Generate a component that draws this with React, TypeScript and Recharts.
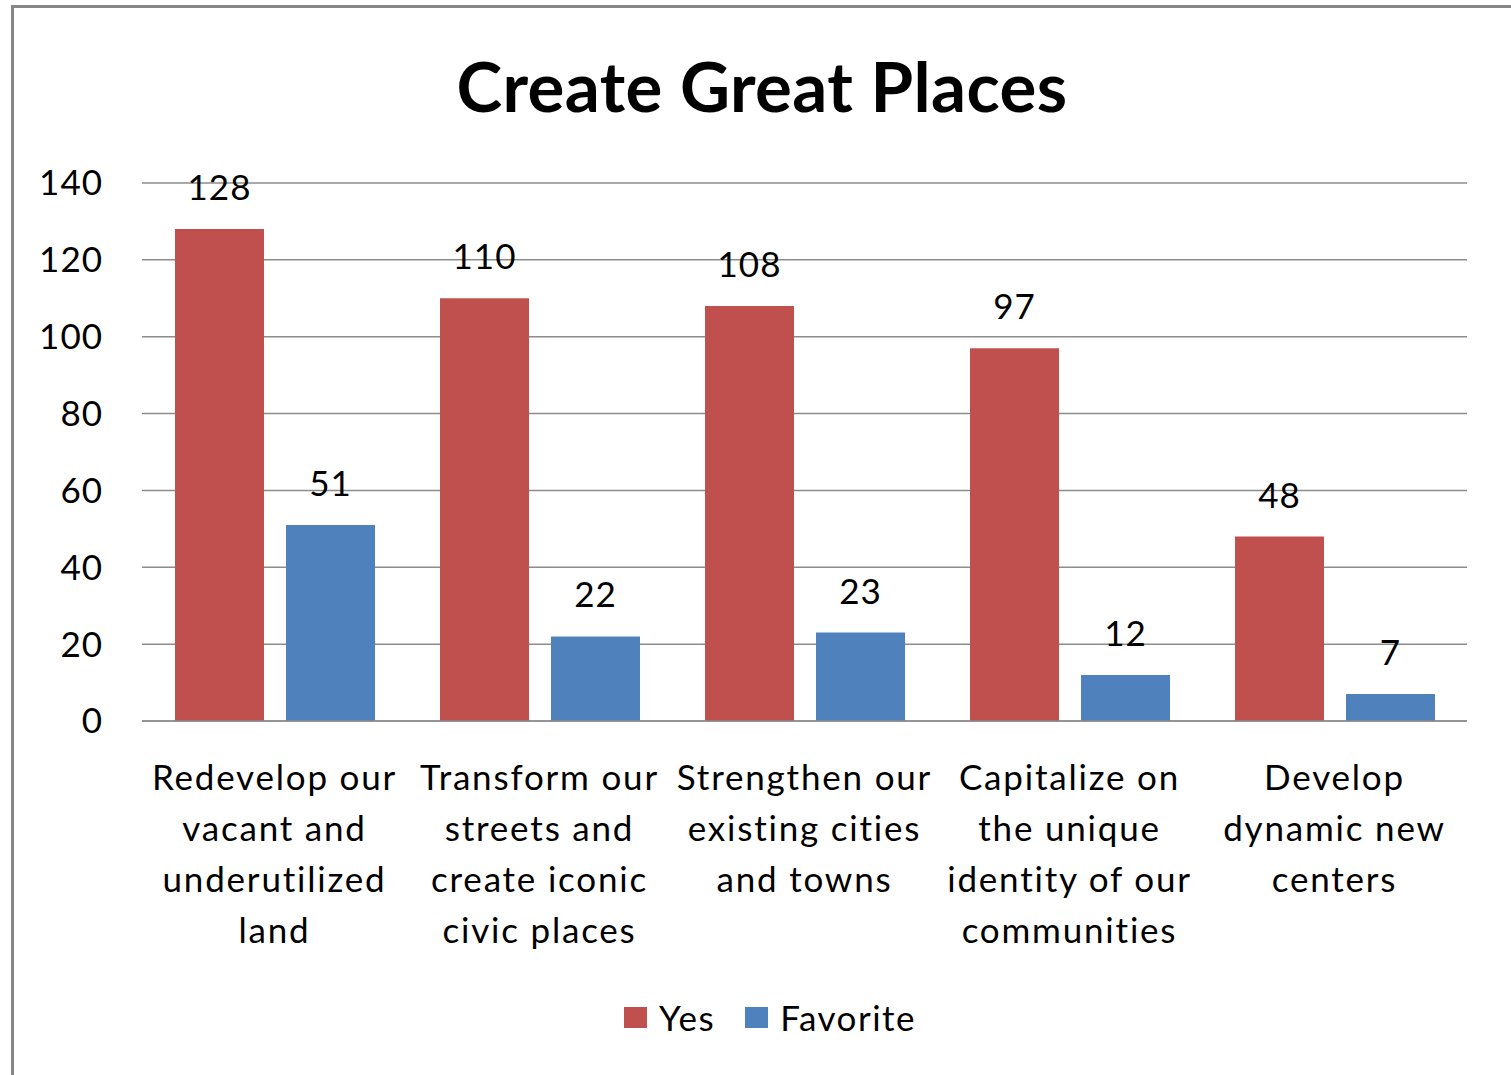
import React from "react";
import { BarChart, Bar, XAxis, YAxis, CartesianGrid, Legend, LabelList } from "recharts";

const categories: string[][] = [
  ["Redevelop our", "vacant and", "underutilized", "land"],
  ["Transform our", "streets and", "create iconic", "civic places"],
  ["Strengthen our", "existing cities", "and towns"],
  ["Capitalize on", "the unique", "identity of our", "communities"],
  ["Develop", "dynamic new", "centers"],
];
const yesValues = [128, 110, 108, 97, 48];
const favoriteValues = [51, 22, 23, 12, 7];
const yTicks = [0, 20, 40, 60, 80, 100, 120, 140];
const seriesKeys = ["yes", "favorite"];
const seriesNames = { yes: "Yes", favorite: "Favorite" };
const title = "Create Great Places";

const data = categories.map((lines, i) => ({
  name: lines.join(" "),
  lines,
  yes: yesValues[i],
  favorite: favoriteValues[i],
}));

const FONT = "Lato, 'Open Sans', sans-serif";
const RED = "#C0504D";
const BLUE = "#4F81BD";
const GRID = "#8c8c8c";

const CategoryTick = (props: any) => {
  const { x, y, index } = props;
  const lines = categories[index] || [];
  return (
    <text x={x} y={y} textAnchor="middle" fill="#000" fontFamily={FONT} fontSize={35} letterSpacing={1.8}>
      {lines.map((l, i) => (
        <tspan key={i} x={x} y={y + 69 + i * 51}>
          {l}
        </tspan>
      ))}
    </text>
  );
};

const renderLegend = (props: any) => {
  const payload = [...(props.payload || [])].sort(
    (a: any, b: any) => seriesKeys.indexOf(a.dataKey) - seriesKeys.indexOf(b.dataKey)
  );
  return (
    <div style={{ display: "flex", justifyContent: "center", alignItems: "center", fontFamily: FONT, fontSize: 35, color: "#000", letterSpacing: 1.5 }}>
      {payload.map((p: any, i: number) => (
        <div key={i} style={{ display: "flex", alignItems: "center", marginLeft: i === 0 ? 0 : 30 }}>
          <div style={{ width: 23, height: 21, background: p.color, marginRight: 12 }} />
          <span style={{ lineHeight: "42px" }}>{p.value}</span>
        </div>
      ))}
    </div>
  );
};

const labelStyle = { fill: "#000", fontFamily: FONT, fontSize: 35, letterSpacing: 1 } as any;

export default function App() {
  return (
    <div style={{ position: "absolute", left: 0, top: 0, width: 1511, height: 1075, background: "#fff", overflow: "hidden" }}>
      <div
        style={{
          position: "absolute",
          left: 11,
          top: 5,
          width: 1700,
          height: 1300,
          border: "3px solid #868686",
          boxSizing: "border-box",
        }}
      />
      <svg style={{ position: "absolute", left: 0, top: 0 }} width={1511} height={140}>
        <text x={762} y={112} textAnchor="middle" fontFamily={FONT} fontWeight={700} fontSize={69} letterSpacing={0.4} fill="#000">
          {title}
        </text>
      </svg>
      <div style={{ position: "absolute", left: 0, top: 0 }}>
        <BarChart
          width={1511}
          height={1075}
          data={data}
          margin={{ top: 183, right: 44, bottom: 4, left: 0 }}
          barCategoryGap={33}
          barGap={22}
        >
          <CartesianGrid vertical={false} stroke={GRID} strokeWidth={1.5} />
          <XAxis
            dataKey="name"
            height={350}
            interval={0}
            tick={<CategoryTick />}
            tickLine={false}
            tickSize={0}
            tickMargin={0}
            axisLine={{ stroke: GRID, strokeWidth: 1.5 }}
          />
          <YAxis
            width={142}
            domain={[0, 140]}
            ticks={yTicks}
            interval={0}
            axisLine={false}
            tickLine={false}
            tickSize={0}
            tickMargin={39}
            tick={{ fill: "#000", fontFamily: FONT, fontSize: 35, letterSpacing: 1 }}
          />
          <Legend
            layout="horizontal"
            verticalAlign="middle"
            align="center"
            itemSorter={null as any}
            content={renderLegend}
            wrapperStyle={{ top: 996, left: 0, width: 1540, height: 44 }}
          />
          <Bar dataKey="yes" name={seriesNames.yes} fill={RED} isAnimationActive={false}>
            <LabelList dataKey="yes" position="top" offset={29} {...labelStyle} />
          </Bar>
          <Bar dataKey="favorite" name={seriesNames.favorite} fill={BLUE} isAnimationActive={false}>
            <LabelList dataKey="favorite" position="top" offset={29} {...labelStyle} />
          </Bar>
        </BarChart>
      </div>
    </div>
  );
}
